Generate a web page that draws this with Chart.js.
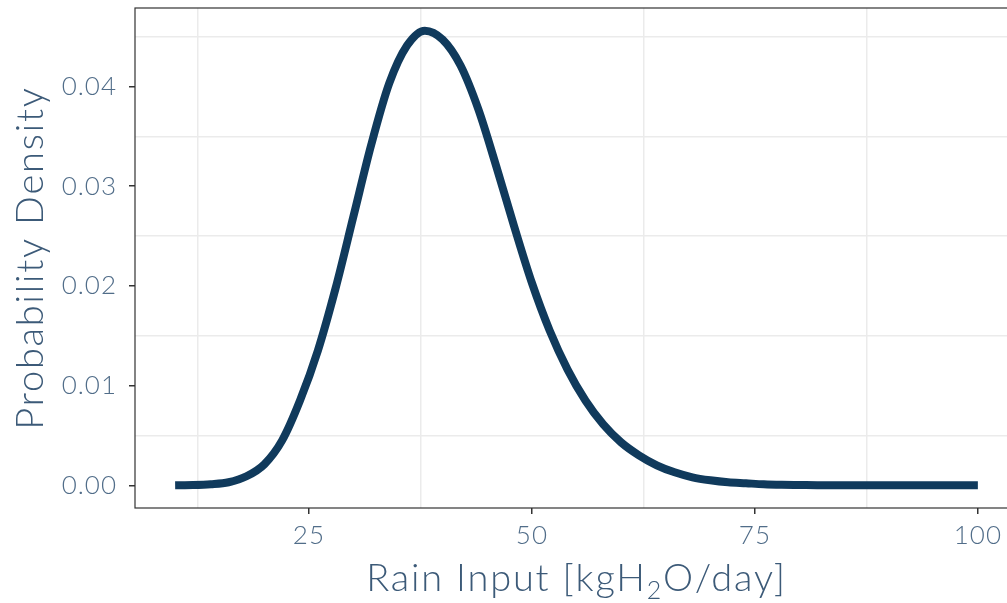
<!DOCTYPE html>
<html>
<head>
<meta charset="utf-8">
<title>Rain input density</title>
<script src="https://cdn.jsdelivr.net/npm/chart.js@4.4.1/dist/chart.umd.min.js"></script>
<style>
  html, body { margin: 0; padding: 0; background: #fff; overflow: hidden; }
  #chart { display: block; }
</style>
</head>
<body>
<canvas id="chart" width="1025" height="603"></canvas>
<script>
// density curve, sampled every 2 kgH2O/day
const rainInput = [10, 12, 14, 16, 18, 20, 22, 24, 26, 28, 30, 32, 34, 36, 38, 40, 42, 44, 46, 48,
                   50, 52, 54, 56, 58, 60, 62, 64, 66, 68, 70, 72, 74, 76, 78, 80, 82, 84, 86, 88,
                   90, 92, 94, 96, 98, 100];
const density = [0, 0.00002, 0.0001, 0.0003, 0.0009, 0.0021, 0.0045, 0.0085, 0.0135, 0.0198,
                 0.0270, 0.0342, 0.0403, 0.0441, 0.0456, 0.0447, 0.0421, 0.0377, 0.0320, 0.0260,
                 0.0203, 0.0155, 0.0116, 0.0085, 0.0061, 0.0043, 0.0030, 0.0020, 0.0013, 0.0008,
                 0.0005, 0.0003, 0.0002, 0.0001, 0.00005, 0.00003, 0.00001, 0, 0, 0,
                 0, 0, 0, 0, 0, 0];

// axis ticks (labelled) and the lighter in-between grid lines
const xTicks = [25, 50, 75, 100];
const xMinor = [12.5, 37.5, 62.5, 87.5];
const yTicks = [0, 0.01, 0.02, 0.03, 0.04];
const yMinor = [0.005, 0.015, 0.025, 0.035, 0.045];

const xTitle = ['Rain Input [kgH', '2', 'O/day]'];
const yTitle = 'Probability Density';

const FONT = 'Lato, "Open Sans", sans-serif';
const tickColor = '#516d89';
const titleColor = '#3c5a78';
const gridColor = '#ebebeb';
const axisColor = '#333333';

const points = rainInput.map((x, i) => ({ x: x, y: density[i] }));

function setTicks(major, minor) {
    return scale => {
        scale.ticks = major.concat(minor).sort((a, b) => a - b).map(v => ({ value: v }));
    };
}

const frameAndTitles = {
    id: 'frameAndTitles',
    beforeDraw(chart) {
        chart.ctx.letterSpacing = '1px';
    },
    afterDraw(chart) {
        const ctx = chart.ctx;
        const a = chart.chartArea;
        ctx.save();
        ctx.strokeStyle = axisColor;
        ctx.lineWidth = 1.2;
        ctx.strokeRect(a.left, a.top, a.right - a.left, a.bottom - a.top);

        ctx.fillStyle = titleColor;
        ctx.textBaseline = 'alphabetic';
        ctx.letterSpacing = '1.8px';

        // x title with the subscript 2
        const big = '300 38px ' + FONT;
        const small = '300 25px ' + FONT;
        ctx.font = big;
        const w0 = ctx.measureText(xTitle[0]).width;
        const w2 = ctx.measureText(xTitle[2]).width;
        ctx.font = small;
        const w1 = ctx.measureText(xTitle[1]).width;
        let x = (a.left + a.right) / 2 - (w0 + w1 + w2) / 2;
        const base = 591;
        ctx.textAlign = 'left';
        ctx.font = big;
        ctx.fillText(xTitle[0], x, base);
        x += w0;
        ctx.font = small;
        ctx.fillText(xTitle[1], x, base + 8);
        x += w1;
        ctx.font = big;
        ctx.fillText(xTitle[2], x, base);

        // y title
        ctx.translate(43, (a.top + a.bottom) / 2);
        ctx.rotate(-Math.PI / 2);
        ctx.textAlign = 'center';
        ctx.font = big;
        ctx.fillText(yTitle, 0, 0);
        ctx.restore();
    }
};

new Chart(document.getElementById('chart'), {
    type: 'line',
    data: {
        datasets: [{
            data: points,
            borderColor: '#103a5c',
            borderWidth: 8,
            borderCapStyle: 'butt',
            pointRadius: 0,
            cubicInterpolationMode: 'monotone',
            fill: false
        }]
    },
    options: {
        responsive: false,
        animation: false,
        devicePixelRatio: 1,
        layout: { padding: { top: 8, right: 7, left: 0, bottom: 0 } },
        plugins: { legend: { display: false }, tooltip: { enabled: false } },
        scales: {
            x: {
                type: 'linear',
                min: 5.5,
                max: 104.5,
                afterBuildTicks: setTicks(xTicks, xMinor),
                afterFit: s => {
                    s.height = 95;
                    s.paddingLeft = 0;
                    s.paddingRight = 0;
                },
                border: { display: false },
                grid: {
                    color: c => xMinor.includes(c.tick.value) ? gridColor : 'rgba(0,0,0,0)',
                    tickColor: c => xTicks.includes(c.tick.value) ? axisColor : 'rgba(0,0,0,0)',
                    lineWidth: 1.5,
                    tickWidth: 1.5,
                    tickLength: 6
                },
                ticks: {
                    autoSkip: false,
                    maxRotation: 0,
                    padding: 6,
                    color: tickColor,
                    font: { family: FONT, size: 26, weight: '300' },
                    callback: v => xTicks.includes(v) ? String(v) : ''
                }
            },
            y: {
                type: 'linear',
                min: -0.00228,
                max: 0.04787,
                afterBuildTicks: setTicks(yTicks, yMinor),
                afterFit: s => {
                    s.width = 135;
                    s.paddingTop = 0;
                    s.paddingBottom = 0;
                },
                border: { display: false },
                grid: {
                    color: c => yMinor.includes(c.tick.value) ? gridColor : 'rgba(0,0,0,0)',
                    tickColor: c => yTicks.includes(c.tick.value) ? axisColor : 'rgba(0,0,0,0)',
                    lineWidth: 1.5,
                    tickWidth: 1.5,
                    tickLength: 6
                },
                ticks: {
                    autoSkip: false,
                    padding: 12,
                    color: tickColor,
                    font: { family: FONT, size: 26, weight: '300' },
                    callback: v => yTicks.includes(v) ? v.toFixed(2) : ''
                }
            }
        }
    },
    plugins: [frameAndTitles]
});
</script>
</body>
</html>
